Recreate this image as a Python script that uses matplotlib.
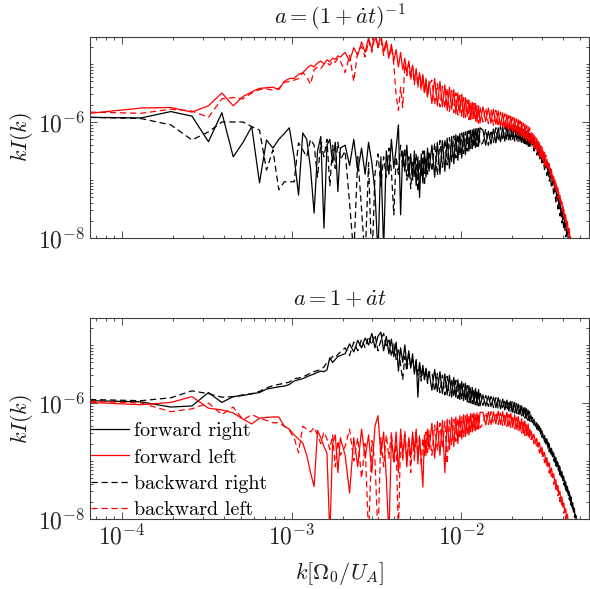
import numpy as np
import matplotlib
matplotlib.use("Agg")
import matplotlib.pyplot as plt
from matplotlib.ticker import LogLocator, NullFormatter, FuncFormatter

plt.rcParams["mathtext.fontset"] = "cm"

# wavenumber grid: k = n * dk (sparse at low n, thinned at high n)
dk = 6.47e-5
n_idx = np.concatenate([np.arange(1, 31), np.arange(32, 101, 2),
                        np.arange(104, 201, 4), np.arange(208, 881, 8)])
k = n_idx * dk

# --- top panel, a = (1 + a't)^-1 : log10 of kI(k) ---
top_fwd_right = (
    [-5.92, -5.93, -5.82, -5.90, -6.34, -5.84, -6.60, -6.35, -6.08, -7.05,
     -6.31, -6.45, -6.30, -6.20, -6.10, -6.60, -7.26, -6.19, -6.30, -6.80,
     -7.57, -6.50, -6.25, -7.83, -6.40, -6.30, -6.70, -6.35, -7.20, -6.45]
    + [-6.40, -6.75, -6.30, -6.85, -6.45, -6.90, -6.35, -6.70, -7.20, -8.3,
       -6.60, -8.2, -6.50, -6.90, -6.30, -6.80, -6.45, -6.05, -7.60, -6.50,
       -6.85, -6.40, -6.95, -6.55, -7.00, -6.50, -7.10, -6.60, -7.30, -6.55,
       -7.05, -6.50, -6.95, -6.45, -6.85]
    + [-6.40, -6.95, -6.35, -6.90, -6.32, -6.85, -6.28, -6.80, -6.25, -6.72,
       -6.22, -6.66, -6.20, -6.62, -6.18, -6.56, -6.16, -6.50, -6.14, -6.46,
       -6.12, -6.44, -6.11, -6.42, -6.10]
    + [-6.14, -6.40, -6.16, -6.38, -6.12, -6.36, -6.10, -6.34, -6.08, -6.33, -6.07, -6.31,
       -6.07, -6.30, -6.06, -6.31, -6.08, -6.33, -6.10, -6.36, -6.13, -6.39, -6.16, -6.42,
       -6.25, -6.40, -6.30, -6.46, -6.36, -6.53, -6.44, -6.61, -6.52, -6.70, -6.60, -6.78,
       -6.70, -6.88, -6.80, -6.98, -6.90, -7.08, -7.00, -7.20, -7.12, -7.32, -7.24, -7.44,
       -7.36, -7.56, -7.48, -7.68, -7.60, -7.80, -7.74, -7.92, -7.88, -8.05, -8.0, -8.2,
       -8.2, -8.3, -8.4, -8.5, -8.6, -8.7, -8.8, -8.9, -9.0, -9.0, -9.0, -9.0]
    + [-9.0] * 13
)
top_fwd_left = (
    [-5.85, -5.76, -5.75, -5.83, -5.72, -5.50, -5.72, -5.56, -5.48, -5.42,
     -5.41, -5.40, -5.44, -5.30, -5.25, -5.25, -5.18, -5.15, -5.08, -5.02,
     -5.05, -4.98, -4.95, -5.00, -4.93, -4.96, -4.90, -4.92, -4.86, -4.88]
    + [-4.80, -4.95, -4.72, -4.85, -4.62, -4.80, -4.55, -4.75, -4.45, -4.70,
       -4.50, -4.78, -4.60, -4.88, -4.66, -4.95, -4.75, -5.05, -4.80, -5.10,
       -4.90, -5.15, -4.95, -5.22, -5.02, -5.30, -5.08, -5.35, -5.15, -5.40,
       -5.18, -5.48, -5.25, -5.55, -5.30]
    + [-5.68, -5.25, -5.72, -5.30, -5.74, -5.36, -5.80, -5.40, -5.78, -5.44,
       -5.86, -5.50, -5.84, -5.52, -5.92, -5.58, -5.90, -5.62, -5.96, -5.66,
       -5.94, -5.68, -6.00, -5.72, -6.02]
    + [-5.74, -5.99, -5.76, -6.02, -5.78, -6.04, -5.81, -6.08, -5.84, -6.10, -5.87, -6.14,
       -5.90, -6.16, -5.93, -6.20, -5.96, -6.24, -6.00, -6.28, -6.04, -6.32, -6.08, -6.36,
       -6.18, -6.38, -6.22, -6.45, -6.28, -6.52, -6.36, -6.60, -6.43, -6.68, -6.52, -6.76,
       -6.64, -6.80, -6.72, -6.90, -6.82, -7.02, -6.94, -7.13, -7.04, -7.22, -7.14, -7.33,
       -7.26, -7.42, -7.38, -7.56, -7.50, -7.68, -7.60, -7.80, -7.72, -7.92, -7.84, -8.06,
       -8.0, -8.2, -8.1, -8.3, -8.3, -8.5, -8.5, -8.6, -8.7, -8.8, -8.9, -9.0]
    + [-9.0] * 13
)
top_bwd_right = (
    [-5.92, -5.94, -6.05, -6.31, -6.17, -6.00, -6.00, -6.00, -6.08, -6.14,
     -6.83, -6.48, -7.17, -7.03, -7.03, -7.03, -6.36, -6.48, -6.60, -6.30,
     -6.40, -6.95, -6.35, -6.60, -6.30, -7.10, -6.40, -6.80, -6.35, -6.65]
    + [-6.50, -7.40, -8.3, -6.60, -7.50, -8.4, -6.70, -8.5, -6.90, -6.55,
       -7.10, -6.60, -6.95, -6.45, -6.85, -7.60, -6.60, -6.90, -6.40, -6.80,
       -6.45, -7.00, -6.60, -7.15, -6.70, -6.95, -6.55, -7.20, -6.65, -6.95,
       -6.50, -7.10, -6.60, -6.90, -6.50]
    + [-6.85, -6.36, -6.92, -6.32, -6.78, -6.30, -6.74, -6.27, -6.68, -6.24,
       -6.62, -6.21, -6.58, -6.19, -6.54, -6.17, -6.50, -6.15, -6.46, -6.14,
       -6.44, -6.12, -6.42, -6.11, -6.40]
    + [-6.36, -6.12, -6.40, -6.14, -6.35, -6.10, -6.33, -6.08, -6.32, -6.07, -6.31, -6.06,
       -6.32, -6.07, -6.33, -6.08, -6.35, -6.10, -6.38, -6.13, -6.41, -6.16, -6.44, -6.20,
       -6.43, -6.32, -6.50, -6.38, -6.57, -6.46, -6.65, -6.54, -6.74, -6.63, -6.82, -6.72,
       -6.92, -6.82, -7.02, -6.93, -7.14, -7.04, -7.26, -7.16, -7.38, -7.28, -7.50, -7.40,
       -7.62, -7.52, -7.74, -7.66, -7.86, -7.80, -7.98, -7.94, -8.1, -8.05, -8.2, -8.2,
       -8.3, -8.4, -8.5, -8.6, -8.7, -8.8, -8.9, -9.0, -9.0, -9.0, -9.0, -9.0]
    + [-9.0] * 13
)
top_bwd_left = (
    [-5.83, -5.85, -5.78, -5.81, -5.92, -5.60, -5.58, -5.60, -5.50, -5.44,
     -5.43, -5.45, -5.42, -5.32, -5.30, -5.28, -5.25, -5.15, -5.22, -5.35,
     -5.10, -5.05, -5.08, -5.00, -4.98, -5.02, -4.94, -4.97, -4.90, -4.95]
    + [-5.15, -4.85, -5.30, -4.78, -4.70, -4.88, -4.60, -4.80, -4.52, -4.72,
       -4.58, -4.85, -4.62, -4.90, -4.70, -5.00, -5.55, -5.80, -5.40, -5.75,
       -5.00, -5.20, -5.00, -5.28, -5.05, -5.35, -5.12, -5.40, -5.20, -5.45,
       -5.22, -5.52, -5.30, -5.58, -5.35]
    + [-5.28, -5.70, -5.34, -5.74, -5.38, -5.76, -5.42, -5.82, -5.46, -5.84,
       -5.50, -5.88, -5.54, -5.90, -5.58, -5.92, -5.62, -5.96, -5.66, -5.94,
       -5.68, -6.00, -5.72, -6.02, -5.74]
    + [-6.00, -5.76, -6.03, -5.78, -6.06, -5.80, -6.08, -5.83, -6.11, -5.86, -6.13, -5.89,
       -6.16, -5.92, -6.19, -5.95, -6.22, -5.98, -6.26, -6.02, -6.30, -6.06, -6.34, -6.10,
       -6.38, -6.20, -6.44, -6.26, -6.51, -6.33, -6.58, -6.41, -6.66, -6.49, -6.74, -6.57,
       -6.78, -6.70, -6.86, -6.80, -6.98, -6.90, -7.08, -7.00, -7.18, -7.10, -7.30, -7.22,
       -7.40, -7.34, -7.52, -7.46, -7.64, -7.58, -7.76, -7.70, -7.88, -7.82, -8.00, -7.96,
       -8.15, -8.1, -8.3, -8.3, -8.4, -8.5, -8.6, -8.7, -8.8, -8.9, -9.0, -9.0]
    + [-9.0] * 13
)

# --- bottom panel, a = 1 + a't ---
bot_fwd_right = (
    [-5.96, -5.98, -6.07, -6.05, -5.82, -5.99, -5.89, -5.87, -5.84, -5.82,
     -5.76, -5.74, -5.72, -5.71, -5.68, -5.62, -5.60, -5.58, -5.55, -5.52,
     -5.50, -5.47, -5.45, -5.46, -5.43, -5.22, -5.30, -5.25, -5.20, -5.18]
    + [-5.15, -4.98, -5.12, -4.92, -5.05, -4.88, -5.00, -4.80, -5.05, -4.85,
       -4.78, -5.10, -4.85, -5.15, -4.90, -5.20, -4.95, -5.45, -5.05, -5.30,
       -5.00, -5.35, -5.10, -5.40, -5.15, -5.50, -5.25, -5.90, -5.30, -5.55,
       -5.35, -5.60, -5.40, -5.62, -5.45]
    + [-5.78, -5.42, -5.80, -5.46, -5.84, -5.50, -5.86, -5.52, -5.90, -5.56,
       -5.90, -5.60, -5.94, -5.63, -5.96, -5.66, -5.98, -5.70, -6.00, -5.73,
       -6.02, -5.75, -6.04, -5.77, -6.05]
    + [-5.86, -6.05, -5.88, -6.06, -5.90, -6.08, -5.91, -6.10, -5.93, -6.12, -5.95, -6.14,
       -5.97, -6.16, -5.99, -6.18, -6.02, -6.20, -6.05, -6.23, -6.08, -6.27, -6.12, -6.31,
       -6.22, -6.34, -6.28, -6.40, -6.34, -6.47, -6.40, -6.54, -6.48, -6.61, -6.56, -6.70,
       -6.62, -6.78, -6.70, -6.86, -6.78, -6.93, -6.86, -7.02, -6.94, -7.10, -7.02, -7.18,
       -7.10, -7.26, -7.18, -7.34, -7.27, -7.43, -7.36, -7.52, -7.44, -7.60, -7.53, -7.68,
       -7.62, -7.78, -7.72, -7.88, -7.82, -7.98, -7.94, -8.1, -8.1, -8.3, -8.4, -8.5]
    + [-8.6, -8.7, -8.8, -8.9] + [-9.0] * 9
)
bot_fwd_left = (
    [-5.99, -6.03, -5.99, -5.89, -6.09, -6.12, -6.17, -6.28, -6.36, -6.26,
     -6.25, -6.24, -6.24, -6.40, -6.45, -6.55, -6.62, -6.69, -6.90, -7.20,
     -7.44, -6.47, -6.60, -6.75, -6.86, -8.3, -6.70, -6.55, -7.20, -6.60]
    + [-6.90, -7.55, -6.60, -7.10, -6.45, -6.95, -6.55, -7.20, -6.40, -6.22,
       -6.90, -6.50, -7.30, -8.3, -6.60, -7.00, -6.50, -7.20, -6.45, -6.90,
       -6.55, -7.10, -6.60, -6.95, -6.50, -6.85, -6.45, -7.05, -6.60, -7.00,
       -7.45, -6.55, -6.90, -6.45, -6.80]
    + [-6.35, -6.95, -6.32, -6.90, -6.30, -7.20, -6.28, -6.80, -6.25, -6.75,
       -6.24, -6.70, -6.22, -6.62, -6.20, -6.58, -6.19, -6.55, -6.18, -6.50,
       -6.17, -6.48, -6.17, -6.45, -6.16]
    + [-6.16, -6.38, -6.15, -6.37, -6.15, -6.36, -6.14, -6.37, -6.15, -6.38, -6.16, -6.40,
       -6.18, -6.42, -6.20, -6.45, -6.23, -6.48, -6.27, -6.52, -6.31, -6.56, -6.36, -6.60,
       -6.48, -6.62, -6.54, -6.68, -6.61, -6.76, -6.68, -6.84, -6.76, -6.92, -6.85, -7.01,
       -6.94, -7.10, -7.03, -7.19, -7.12, -7.28, -7.22, -7.38, -7.32, -7.48, -7.42, -7.58,
       -7.52, -7.68, -7.62, -7.78, -7.72, -7.88, -7.82, -7.98, -7.92, -8.1, -8.05, -8.2,
       -8.2, -8.3, -8.4, -8.5, -8.6, -8.7, -8.8, -8.9, -9.0, -9.0, -9.0, -9.0]
    + [-9.0] * 13
)
bot_bwd_right = (
    [-5.94, -5.96, -5.91, -5.79, -5.84, -5.90, -5.89, -5.86, -5.84, -5.80,
     -5.74, -5.70, -5.68, -5.66, -5.64, -5.58, -5.57, -5.55, -5.52, -5.48,
     -5.46, -5.44, -5.42, -5.38, -5.30, -5.25, -5.20, -5.22, -5.16, -5.12]
    + [-5.05, -5.18, -4.95, -5.10, -4.90, -5.05, -4.85, -5.00, -4.82, -5.10,
       -4.92, -4.80, -5.05, -4.88, -5.20, -4.98, -5.25, -5.05, -5.35, -5.60,
       -5.20, -5.45, -5.15, -5.38, -5.22, -5.45, -5.28, -5.52, -5.32, -5.62,
       -5.38, -5.58, -5.42, -5.66, -5.48]
    + [-5.46, -5.80, -5.49, -5.82, -5.52, -5.86, -5.54, -5.88, -5.58, -5.90,
       -5.61, -5.92, -5.64, -5.94, -5.67, -5.96, -5.70, -5.99, -5.73, -6.01,
       -5.76, -6.03, -5.78, -6.05, -5.80]
    + [-6.04, -5.87, -6.06, -5.89, -6.08, -5.91, -6.10, -5.93, -6.11, -5.94, -6.13, -5.96,
       -6.15, -5.98, -6.17, -6.01, -6.19, -6.04, -6.22, -6.07, -6.26, -6.10, -6.30, -6.15,
       -6.32, -6.25, -6.38, -6.31, -6.45, -6.37, -6.52, -6.44, -6.59, -6.52, -6.67, -6.60,
       -6.76, -6.68, -6.84, -6.76, -6.92, -6.84, -7.00, -6.92, -7.08, -7.00, -7.16, -7.08,
       -7.24, -7.16, -7.32, -7.25, -7.41, -7.34, -7.50, -7.42, -7.58, -7.51, -7.66, -7.60,
       -7.76, -7.70, -7.86, -7.80, -7.96, -7.92, -8.05, -8.1, -8.2, -8.3, -8.4, -8.5]
    + [-8.6, -8.7, -8.8, -8.9] + [-9.0] * 9
)
bot_bwd_left = (
    [-5.97, -6.00, -6.15, -6.10, -6.00, -6.20, -6.07, -6.29, -6.20, -6.26,
     -6.30, -6.34, -6.34, -6.40, -6.47, -6.60, -6.86, -6.40, -6.45, -6.50,
     -6.42, -6.55, -6.70, -6.50, -6.62, -6.80, -6.55, -7.10, -6.65, -6.90]
    + [-6.75, -6.45, -7.00, -6.60, -7.30, -6.70, -8.3, -6.65, -7.00, -8.3,
       -6.60, -7.10, -6.55, -6.95, -6.50, -7.05, -6.70, -8.3, -6.55, -7.00,
       -6.48, -6.95, -6.60, -7.20, -6.55, -7.00, -6.50, -6.88, -6.55, -7.10,
       -6.60, -6.95, -6.50, -6.85, -6.48]
    + [-6.90, -6.38, -6.82, -6.35, -6.78, -6.32, -7.05, -6.30, -6.72, -6.28,
       -6.66, -6.26, -6.62, -6.24, -6.58, -6.22, -6.54, -6.21, -6.50, -6.20,
       -6.48, -6.19, -6.45, -6.18, -6.43]
    + [-6.36, -6.16, -6.37, -6.15, -6.36, -6.16, -6.37, -6.17, -6.39, -6.18, -6.40, -6.20,
       -6.42, -6.22, -6.45, -6.25, -6.48, -6.29, -6.52, -6.33, -6.56, -6.38, -6.60, -6.43,
       -6.63, -6.55, -6.70, -6.62, -6.78, -6.69, -6.86, -6.77, -6.94, -6.86, -7.03, -6.95,
       -7.12, -7.04, -7.21, -7.13, -7.30, -7.23, -7.40, -7.33, -7.50, -7.43, -7.60, -7.53,
       -7.70, -7.63, -7.80, -7.74, -7.90, -7.85, -8.0, -7.96, -8.1, -8.1, -8.2, -8.25,
       -8.3, -8.4, -8.5, -8.6, -8.7, -8.8, -8.9, -9.0, -9.0, -9.0, -9.0, -9.0]
    + [-9.0] * 13
)

titles = [r"$a=(1+\dot{a}t)^{-1}$", r"$a=1+\dot{a}t$"]
labels = ["forward right", "forward left", "backward right", "backward left"]


def pow10_label(v, pos):
    """Tick label as 10^{e} in Computer Modern."""
    return r"$10^{%d}$" % int(round(np.log10(v)))


fig = plt.figure(figsize=(5.9, 5.89), dpi=100)
ax_top = fig.add_axes([0.1525, 0.5959, 0.846, 0.3413])
ax_bot = fig.add_axes([0.1525, 0.1188, 0.846, 0.3413])

panels = [
    (ax_top, [top_fwd_right, top_fwd_left, top_bwd_right, top_bwd_left]),
    (ax_bot, [bot_fwd_right, bot_fwd_left, bot_bwd_right, bot_bwd_left]),
]
styles = [("k", "-"), ("r", "-"), ("k", "--"), ("r", "--")]
draw_order = [0, 2, 1, 3]  # black underneath red

for i, (ax, series) in enumerate(panels):
    handles = [None] * 4
    for j in draw_order:
        vals = np.array(series[j])
        assert len(vals) == len(k)
        color, ls = styles[j]
        line, = ax.plot(k, 10.0 ** vals, color=color, lw=0.9, label=labels[j])
        if ls == "--":
            line.set_dashes((5, 3))
        handles[j] = line
    ax.set_xscale("log")
    ax.set_yscale("log")
    ax.set_xlim(dk, 880 * dk)
    ax.set_ylim(1e-8, 2.92e-5)
    ax.set_yticks([1e-8, 1e-6])
    ax.xaxis.set_major_locator(LogLocator(base=10, numticks=10))
    ax.xaxis.set_minor_locator(LogLocator(base=10, subs=np.arange(2, 10), numticks=20))
    ax.yaxis.set_minor_locator(LogLocator(base=10, subs=np.arange(1, 10), numticks=20))
    ax.xaxis.set_major_formatter(FuncFormatter(pow10_label))
    ax.yaxis.set_major_formatter(FuncFormatter(pow10_label))
    ax.xaxis.set_minor_formatter(NullFormatter())
    ax.yaxis.set_minor_formatter(NullFormatter())
    ax.tick_params(which="both", direction="in", top=True, right=True,
                   labelsize=17, width=0.6, colors="0.2", labelcolor="0.15")
    ax.tick_params(which="major", length=5)
    ax.tick_params(which="minor", length=2.5)
    for sp in ax.spines.values():
        sp.set_linewidth(0.8)
        sp.set_color("0.25")
    ax.set_title(titles[i], fontsize=16, pad=9, color="0.1")
    ax.set_ylabel(r"$kI(k)$", fontsize=16, labelpad=2, color="0.1")
    if i == 1:
        ax.set_xlabel(r"$k[\Omega_0/U_A]$", fontsize=16, labelpad=8, color="0.1")
        ax.legend(handles=handles, loc="lower left", bbox_to_anchor=(0.0, -0.004),
                  frameon=False, prop={"family": "cmr10", "size": 14.5},
                  handlelength=1.9, handletextpad=0.25, labelspacing=0.4,
                  borderaxespad=0.05, borderpad=0.0)
    else:
        ax.tick_params(labelbottom=False)

fig.savefig("out.png", dpi=100)
